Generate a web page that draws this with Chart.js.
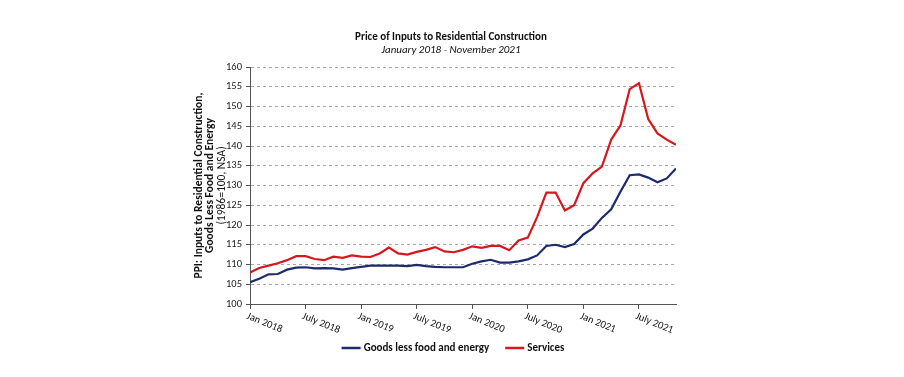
<!DOCTYPE html>
<html>
<head>
<meta charset="utf-8">
<title>Price of Inputs to Residential Construction</title>
<script src="https://cdn.jsdelivr.net/npm/chart.js@4.4.0/dist/chart.umd.min.js"></script>
<style>
    html, body { margin: 0; padding: 0; background: #ffffff; }
    #wrap { width: 904px; height: 377px; position: relative; }
</style>
</head>
<body>
<div id="wrap"><canvas id="chartPPI"></canvas></div>
<script>
// monthly values, Jan 2018 .. Nov 2021 (47 months)
var goods = [
    105.5, 106.4, 107.5, 107.6, 108.7, 109.2, 109.3, 109.0, 109.1, 109.0, 108.7, 109.1,
    109.4, 109.7, 109.7, 109.7, 109.7, 109.6, 109.9, 109.6, 109.4, 109.3, 109.3, 109.3,
    110.2, 110.8, 111.2, 110.5, 110.5, 110.8, 111.3, 112.3, 114.7, 115.0, 114.4, 115.2,
    117.6, 119.1, 121.8, 124.0, 128.4, 132.6, 132.8, 132.0, 130.8, 131.8, 134.3
];
var services = [
    108.0, 109.1, 109.7, 110.3, 111.1, 112.1, 112.1, 111.4, 111.1, 112.0, 111.7, 112.3,
    112.0, 111.9, 112.8, 114.3, 112.8, 112.5, 113.2, 113.7, 114.4, 113.3, 113.1, 113.7,
    114.6, 114.2, 114.7, 114.7, 113.6, 116.1, 116.8, 122.0, 128.2, 128.2, 123.7, 125.0,
    130.6, 133.1, 134.8, 141.6, 145.2, 154.4, 155.9, 146.8, 143.2, 141.6, 140.3
];
var xTickLabels = ['Jan 2018', 'July 2018', 'Jan 2019', 'July 2019',
                   'Jan 2020', 'July 2020', 'Jan 2021', 'July 2021'];
var seriesNames = ['Goods less food and energy', 'Services'];
var seriesColors = ['#1d2b6c', '#d8161d'];

var chartTitle = 'Price of Inputs to Residential Construction';
var chartSubtitle = 'January 2018 - November 2021';
var yTitle = ['PPI: Inputs to Residential Construction,', 'Goods Less Food and Energy', '(1986=100, NSA)'];

var FONT = 'Carlito, Lato, sans-serif';

function toPoints(arr) {
    var pts = [];
    for (var i = 0; i < arr.length; i++) {
        pts.push({ x: i, y: arr[i] });
    }
    return pts;
}

// titles, rotated x labels and legend drawn by hand
var textPlugin = {
    id: 'textPlugin',
    afterDraw: function (chart) {
        var ctx = chart.ctx;
        var area = chart.chartArea;
        var xs = chart.scales.x;
        ctx.save();
        ctx.fillStyle = '#111111';
        ctx.textBaseline = 'middle';

        ctx.textAlign = 'center';
        ctx.font = 'bold 11px ' + FONT;
        ctx.fillText(chartTitle, 451, 37);
        ctx.font = 'italic 11px ' + FONT;
        ctx.fillText(chartSubtitle, 451, 50);

        // y axis title
        var midY = (area.top + area.bottom) / 2;
        var lineX = [199, 210.5, 222];
        for (var i = 0; i < yTitle.length; i++) {
            ctx.save();
            ctx.translate(lineX[i], midY);
            ctx.rotate(-Math.PI / 2);
            ctx.font = (i < 2 ? 'bold ' : '') + '11.5px ' + FONT;
            ctx.fillText(yTitle[i], 0, 0);
            ctx.restore();
        }

        // x labels, slanted downwards
        ctx.textAlign = 'left';
        ctx.textBaseline = 'top';
        ctx.font = '10.5px ' + FONT;
        for (var k = 0; k < xTickLabels.length; k++) {
            var px = xs.getPixelForValue(k * 6);
            ctx.save();
            ctx.translate(px - 1, area.bottom + 7);
            ctx.rotate(22 * Math.PI / 180);
            ctx.fillText(xTickLabels[k], 0, 0);
            ctx.restore();
        }

        // legend
        ctx.font = 'bold 11px ' + FONT;
        ctx.textBaseline = 'middle';
        var sw = 19, gap = 3, between = 16;
        var w0 = ctx.measureText(seriesNames[0]).width;
        var w1 = ctx.measureText(seriesNames[1]).width;
        var total = sw + gap + w0 + between + sw + gap + w1;
        var lx = 453 - total / 2;
        var ly = 348;
        for (var s = 0; s < 2; s++) {
            ctx.strokeStyle = seriesColors[s];
            ctx.lineWidth = 2.5;
            ctx.beginPath();
            ctx.moveTo(lx, ly);
            ctx.lineTo(lx + sw, ly);
            ctx.stroke();
            lx += sw + gap;
            ctx.fillText(seriesNames[s], lx, ly);
            lx += (s === 0 ? w0 : w1) + between;
        }
        ctx.restore();
    }
};

const ctx = document.getElementById('chartPPI').getContext('2d');
const myChart = new Chart(ctx, {
    type: 'line',
    data: {
        datasets: [{
            label: seriesNames[0],
            data: toPoints(goods),
            borderColor: seriesColors[0],
            borderWidth: 2.2,
            pointRadius: 0,
            fill: false,
            tension: 0
        },
        {
            label: seriesNames[1],
            data: toPoints(services),
            borderColor: seriesColors[1],
            borderWidth: 2.2,
            pointRadius: 0,
            fill: false,
            tension: 0
        }]
    },
    options: {
        responsive: true,
        maintainAspectRatio: false,
        animation: false,
        devicePixelRatio: 1,
        layout: {
            // y axis box is 36px wide, so the plot starts at x=250
            padding: { left: 214, right: 228, top: 67, bottom: 73 }
        },
        plugins: {
            legend: { display: false },
            title: { display: false },
            tooltip: { enabled: false }
        },
        scales: {
            x: {
                type: 'linear',
                min: 0,
                max: goods.length - 1,
                ticks: { display: false, stepSize: 6, includeBounds: false },
                grid: {
                    drawOnChartArea: false,
                    tickLength: 5,
                    color: '#555555',
                    tickColor: '#555555'
                },
                border: { color: '#555555', width: 1 },
                afterFit: function (scale) { scale.height = 0; }
            },
            y: {
                min: 100,
                max: 160,
                ticks: {
                    stepSize: 5,
                    padding: 4,
                    color: '#222222',
                    font: { family: FONT, size: 10.5 }
                },
                grid: {
                    color: '#a8a8a8',
                    tickColor: '#555555',
                    tickLength: 4,
                    tickBorderDash: []
                },
                border: { color: '#555555', width: 1, dash: [3, 3] },
                afterFit: function (scale) { scale.width = 36; }
            }
        }
    },
    plugins: [textPlugin]
});
</script>
</body>
</html>
